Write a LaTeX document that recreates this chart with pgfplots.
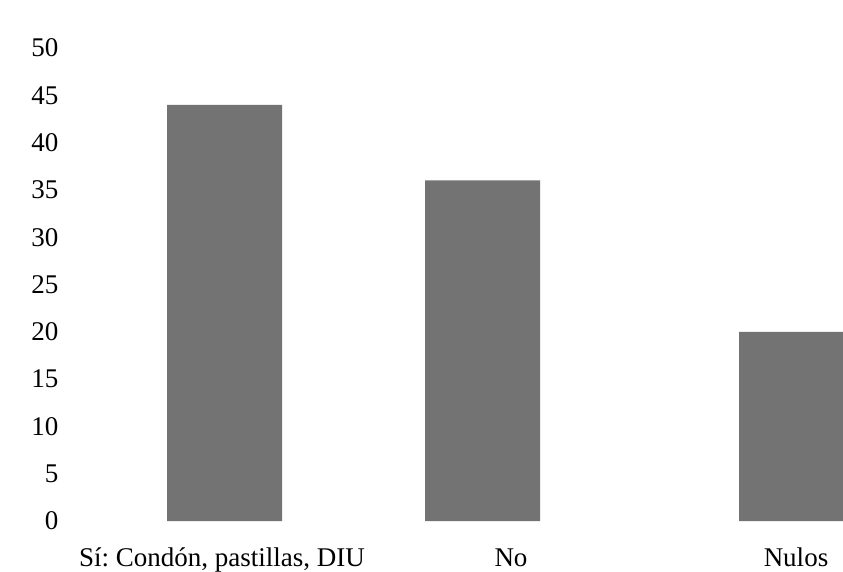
\documentclass[border=0pt]{standalone}
\usepackage{pgfplots}
\pgfplotsset{compat=1.18}
\usepackage{fontspec}
\setmainfont{Liberation Serif}
\frenchspacing
\definecolor{barc}{HTML}{737373}
\begin{document}
\begin{tikzpicture}[x=1pt,y=1pt]
\useasboundingbox (0,0) rectangle (843,571);
\begin{axis}[
  at={(80pt,50pt)}, anchor=south west,
  scale only axis, width=763pt, height=473pt,
  xmin=80, xmax=843, ymin=0, ymax=50,
  axis line style={draw=none},
  major tick length=0pt,
  ytick={0,5,...,50},
  xtick={222,511,796},
  xticklabels={{Sí: Condón, pastillas, DIU}, No, Nulos},
  xticklabel style={anchor=base, yshift=-45pt},
  yticklabel style={anchor=east, xshift=-18pt},
  /pgf/number format/assume math mode=true,
  tick label style={font=\fontsize{27}{30}\selectfont},
  ybar, bar width=115,
  clip=true,
]
\addplot[fill=barc, draw=none] coordinates {(224.5,44) (482.5,36) (796.5,20)};
\end{axis}
\end{tikzpicture}
\end{document}
